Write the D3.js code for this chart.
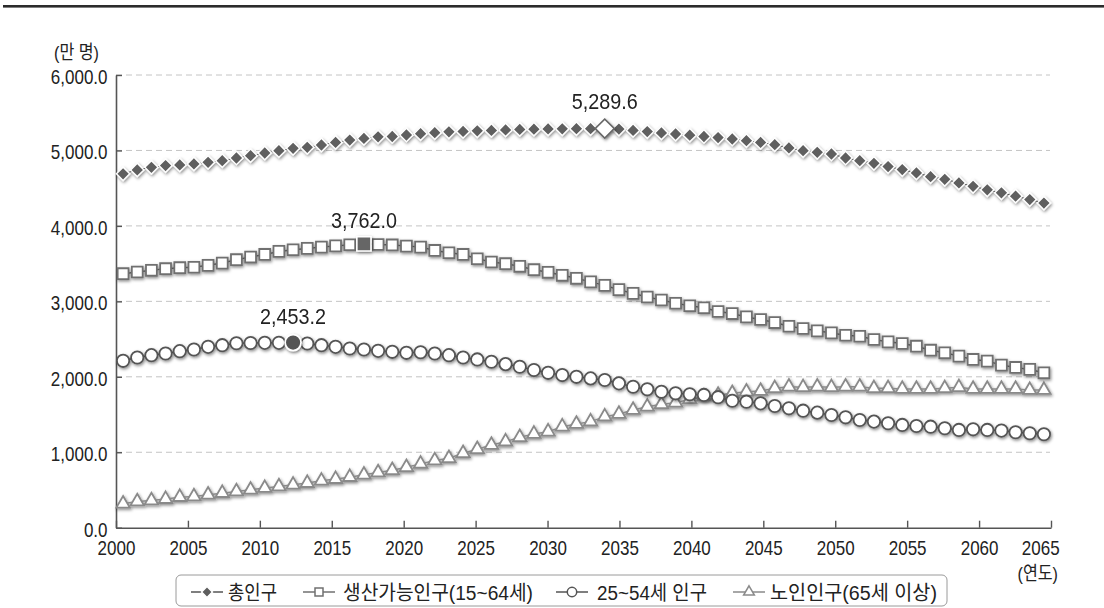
<!DOCTYPE html>
<html><head><meta charset="utf-8">
<script src="https://cdn.jsdelivr.net/npm/d3@7/dist/d3.min.js"></script>
<style>html,body{margin:0;padding:0;background:#fff;}svg{display:block;}</style>
</head><body>
<svg id="c" width="1104" height="608"></svg>
<script>
const years = [2000,2001,2002,2003,2004,2005,2006,2007,2008,2009,2010,2011,2012,2013,2014,2015,2016,2017,2018,2019,
2020,2021,2022,2023,2024,2025,2026,2027,2028,2029,2030,2031,2032,2033,2034,2035,2036,2037,2038,2039,
2040,2041,2042,2043,2044,2045,2046,2047,2048,2049,2050,2051,2052,2053,2054,2055,2056,2057,2058,2059,
2060,2061,2062,2063,2064,2065];
const totalPop = [4690,4742,4777,4799,4808,4821,4843,4865,4900,4931,4966,4997,5028,5041,5072,5107,5138,5160,5180,5185,
5205,5222,5235,5247,5252,5260,5265,5272,5278,5282,5285,5287,5288,5289,5289.6,5284,5265,5250,5232,5218,
5203,5185,5170,5152,5129,5107,5077,5033,4997,4975,4953,4900,4865,4830,4786,4746,4702,4653,4618,4570,
4525,4478,4438,4394,4349,4302];
const workingPop = [3367,3389,3411,3433,3446,3452,3477,3507,3552,3587,3622,3662,3684,3702,3719,3735,3750,3762.0,3754,3748,
3732,3719,3675,3644,3622,3565,3521,3499,3464,3420,3385,3345,3305,3258,3212,3155,3106,3058,3018,2975,
2942,2915,2866,2838,2794,2759,2719,2670,2640,2609,2582,2551,2538,2494,2463,2441,2406,2353,2318,2274,
2230,2208,2155,2124,2098,2053];
const corePop = [2212,2256,2287,2309,2340,2362,2397,2419,2445,2448,2450,2450,2453.2,2441,2419,2397,2375,2362,2344,2331,
2318,2325,2309,2287,2256,2230,2199,2168,2133,2089,2053,2023,2000,1979,1957,1913,1868,1834,1802,1781,
1768,1760,1730,1683,1670,1648,1613,1582,1551,1525,1494,1463,1428,1406,1384,1362,1348,1339,1318,1296,
1304,1296,1287,1265,1252,1238];
const elderPop = [317,348,361,379,405,414,436,458,480,502,525,546,568,591,621,644,670,701,731,762,
802,846,890,921,987,1040,1097,1141,1199,1243,1273,1339,1375,1406,1472,1507,1560,1604,1635,1657,
1701,1736,1758,1781,1802,1811,1847,1868,1860,1868,1860,1868,1868,1847,1847,1838,1838,1838,1847,1860,
1838,1838,1838,1838,1824,1824];
const seriesNames = ["총인구","생산가능인구(15~64세)","25~54세 인구","노인인구(65세 이상)"];
const yTicks = [0,1000,2000,3000,4000,5000,6000];
const xTicks = [2000,2005,2010,2015,2020,2025,2030,2035,2040,2045,2050,2055,2060,2065];
const peakYears = [2034,2017,2012];
const peakLabels = ["5,289.6","3,762.0","2,453.2"];
const yUnit = "(만 명)";
const xUnit = "(연도)";

const FONT = "'Liberation Sans', Arial, 'Noto Sans CJK KR', sans-serif";
const svg = d3.select("#c");
const defs = svg.append("defs");
const f = defs.append("filter").attr("id","sh").attr("x","-50%").attr("y","-50%").attr("width","200%").attr("height","200%");
f.append("feDropShadow").attr("dx",1).attr("dy",1.5).attr("stdDeviation",1.6).attr("flood-color","#000").attr("flood-opacity",0.45);

// top rule
svg.append("rect").attr("x",3).attr("y",5).attr("width",1101).attr("height",2.6).attr("fill","#2b2b2b");

const L = 116, R = 1051, T = 75, B = 527.7;
const xBand = d3.scaleBand().domain(years).range([L,R]);
const px = yr => xBand(yr) + xBand.bandwidth()/2;
const xTick = d3.scaleLinear().domain([2000,2065]).range([L,R]);
const y = d3.scaleLinear().domain([0,6000]).range([B,T]);

// grid
svg.append("g").selectAll("line").data(yTicks.filter(d=>d>0)).join("line")
  .attr("x1",L).attr("x2",1050).attr("y1",d=>y(d)).attr("y2",d=>y(d))
  .attr("stroke","#c4c4c4").attr("stroke-width",1).attr("stroke-dasharray","6,4");

// axes
const ya = svg.append("g").attr("transform",`translate(${L},0)`)
  .call(d3.axisLeft(y).tickValues(yTicks).tickFormat(d3.format(",.1f")).tickSize(-6).tickSizeOuter(0).tickPadding(10));
ya.select(".domain").attr("stroke","#555").attr("stroke-width",1.6);
ya.selectAll(".tick line").attr("stroke","#555").attr("stroke-width",1.4);
ya.selectAll(".tick text").attr("font-family",FONT).attr("font-size",20).attr("fill","#222")
  .attr("dy","0.42em").attr("transform","scale(0.85,1)");

const xa = svg.append("g").attr("transform",`translate(0,${B})`)
  .call(d3.axisBottom(xTick).tickValues(xTicks).tickFormat(d3.format("d")).tickSize(-7).tickSizeOuter(0).tickPadding(13));
xa.select(".domain").attr("stroke","#555").attr("stroke-width",1.6);
xa.selectAll(".tick line").attr("stroke","#555").attr("stroke-width",1.4);
xa.selectAll(".tick text").attr("font-family",FONT).attr("font-size",20).attr("fill","#222")
  .attr("transform","scale(0.85,1)");
xa.selectAll(".tick text").filter(d=>d===2065).attr("text-anchor","end").attr("x",9.5);

function stext(x,yy,txt,size,sx,anchor,len){
  const t = svg.append("text").attr("transform",`translate(${x},${yy}) scale(${sx},1)`)
    .attr("font-family",FONT).attr("font-size",size).attr("fill","#222")
    .attr("text-anchor",anchor||"start").text(txt);
  return t;
}
stext(54,59,yUnit,19,0.85,"start");
stext(1058,580,xUnit,19,0.85,"end");

const line = d3.line().x((d,i)=>px(years[i])).y(d=>y(d));
const diamond = d3.symbol().type(d3.symbolSquare).size(88);
const square = d3.symbol().type(d3.symbolSquare).size(118);
const circle = d3.symbol().type(d3.symbolCircle).size(120);
const tri = d3.symbol().type(d3.symbolTriangle).size(78);

function series(data, opts){
  const g = svg.append("g").attr("filter","url(#sh)");
  g.append("path").datum(data).attr("d",line).attr("fill","none")
    .attr("stroke",opts.line).attr("stroke-width",opts.lw);
  g.selectAll("path.m").data(data).join("path").attr("class","m")
    .attr("d",opts.sym)
    .attr("transform",(d,i)=>`translate(${px(years[i])},${y(d)})${opts.rot?" rotate(45)":""}`)
    .attr("fill",opts.fill).attr("stroke",opts.stroke).attr("stroke-width",opts.sw);
  return g;
}
series(elderPop,{line:"#8a8a8a",lw:1.5,sym:tri,fill:"#fff",stroke:"#8a8a8a",sw:1.8});
series(corePop,{line:"#444",lw:1.5,sym:circle,fill:"#fff",stroke:"#555",sw:1.8});
series(workingPop,{line:"#555",lw:1.5,sym:square,fill:"#fff",stroke:"#707070",sw:1.8});
series(totalPop,{line:"#555",lw:1,sym:diamond,fill:"#5e5e5e",stroke:"#fff",sw:1.4,rot:true});

// highlighted peaks
const hg = svg.append("g").attr("filter","url(#sh)");
const i0 = years.indexOf(peakYears[0]), i1 = years.indexOf(peakYears[1]), i2 = years.indexOf(peakYears[2]);
hg.append("path").attr("d",d3.symbol().type(d3.symbolSquare).size(180)())
  .attr("transform",`translate(${px(peakYears[0])},${y(totalPop[i0])}) rotate(45)`)
  .attr("fill","#fff").attr("stroke","#666").attr("stroke-width",1.6);
hg.append("path").attr("d",d3.symbol().type(d3.symbolSquare).size(200)())
  .attr("transform",`translate(${px(peakYears[1])},${y(workingPop[i1])})`)
  .attr("fill","#666").attr("stroke","#fff").attr("stroke-width",1.6);
hg.append("path").attr("d",d3.symbol().type(d3.symbolCircle).size(200)())
  .attr("transform",`translate(${px(peakYears[2])},${y(corePop[i2])})`)
  .attr("fill","#555").attr("stroke","#fff").attr("stroke-width",1.8);

const peakVals = [totalPop[i0], workingPop[i1], corePop[i2]];
const peakOff = [20, 16, 19];
peakYears.forEach((yr,k)=>{
  stext(px(yr), y(peakVals[k]) - peakOff[k], peakLabels[k], 22, 0.9, "middle");
});

// legend
svg.append("rect").attr("x",176).attr("y",575).attr("width",771).attr("height",31).attr("rx",5)
  .attr("fill","#fff").attr("stroke","#9a9a9a").attr("stroke-width",1);
const leg = [
  {cx:207, tx:228, tw:49, line:"#555", sym:d3.symbol().type(d3.symbolSquare).size(60)(), rot:true, fill:"#5e5e5e", stroke:"#fff"},
  {cx:319, tx:343, tw:190, line:"#707070", sym:d3.symbol().type(d3.symbolSquare).size(64)(), fill:"#fff", stroke:"#707070"},
  {cx:572, tx:597, tw:110, line:"#555", sym:d3.symbol().type(d3.symbolCircle).size(70)(), fill:"#fff", stroke:"#555"},
  {cx:749, tx:770, tw:167, line:"#8a8a8a", sym:d3.symbol().type(d3.symbolTriangle).size(50)(), fill:"#fff", stroke:"#8a8a8a"}
];
leg.forEach((d,k)=>{
  const g = svg.append("g");
  g.append("line").attr("x1",d.cx-16).attr("x2",d.cx+16).attr("y1",592).attr("y2",592)
    .attr("stroke",d.line).attr("stroke-width",1.5);
  g.append("path").attr("d",d.sym).attr("transform",`translate(${d.cx},592)${d.rot?" rotate(45)":""}`)
    .attr("fill",d.fill).attr("stroke",d.stroke).attr("stroke-width",1.5);
  g.append("text").attr("x",d.tx).attr("y",600).attr("font-family",FONT).attr("font-size",20)
    .attr("fill","#222").attr("textLength",d.tw).attr("lengthAdjust","spacingAndGlyphs").text(seriesNames[k]);
});
</script>
</body></html>
